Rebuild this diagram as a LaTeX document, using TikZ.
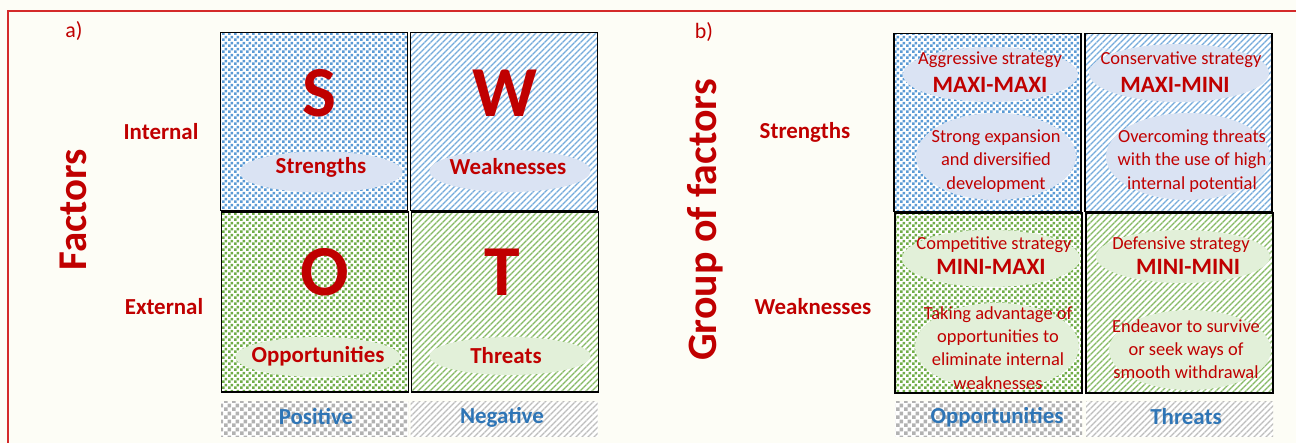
\documentclass[tikz,border=0pt]{standalone}
\usepackage{fontspec}
\setmainfont{Carlito}
\usetikzlibrary{patterns.meta,shapes.geometric}
\definecolor{bg}{HTML}{FDFDF6}
\definecolor{framered}{HTML}{D42A2A}
\definecolor{tred}{HTML}{C00000}
\definecolor{tblue}{HTML}{2E75B6}
\definecolor{pblue}{HTML}{5B9BD5}
\definecolor{pgreen}{HTML}{70AD47}
\definecolor{pgrayc}{HTML}{B2B2B2}
\definecolor{pgrays}{HTML}{BDBDBD}
\definecolor{eblue}{HTML}{DAE3F3}
\definecolor{egreen}{HTML}{E2F0D9}
\tikzdeclarepattern{name=checkA, type=uncolored,
  bounding box={(0bp,0bp) and (6bp,6bp)}, tile size={(6bp,6bp)},
  code={\fill (0bp,0bp) rectangle (3bp,3bp); \fill (3bp,3bp) rectangle (6bp,6bp);}}
\tikzdeclarepattern{name=checkB, type=uncolored,
  bounding box={(0bp,0bp) and (8bp,8bp)}, tile size={(8bp,8bp)},
  code={\fill (0bp,0bp) rectangle (4bp,4bp); \fill (4bp,4bp) rectangle (8bp,8bp);}}
\tikzset{
  cell/.style={draw=black, line width=1.8bp, minimum width=187bp, minimum height=178bp, inner sep=0pt, preaction={fill=white}},
  chkblue/.style={pattern=checkA, pattern color=pblue},
  chkgreen/.style={pattern=checkA, pattern color=pgreen},
  strblue/.style={pattern={Lines[angle=45,distance=4.2426bp,line width=1.3bp]}, pattern color=pblue!85!white},
  strgreen/.style={pattern={Lines[angle=45,distance=4.2426bp,line width=1.3bp]}, pattern color=pgreen!85!white},
  bar/.style={minimum width=187bp, minimum height=35bp, inner sep=0pt, preaction={fill=white}},
  chkgray/.style={pattern=checkB, pattern color=pgrayc},
  strgray/.style={pattern={Lines[angle=45,distance=4.2426bp,line width=1.3bp]}, pattern color=pgrays},
  ell/.style={ellipse, inner sep=0pt, draw=none},
  big/.style={text=tred, font=\fontsize{72}{72}\selectfont\bfseries, inner sep=0pt},
  lbl/.style={text=tred, font=\fontsize{23}{27}\selectfont\bfseries, inner sep=0pt},
  blbl/.style={text=tblue, font=\fontsize{23}{27}\selectfont\bfseries, inner sep=0pt},
  axis/.style={text=tred, font=\fontsize{41}{45}\selectfont\bfseries, inner sep=0pt, rotate=90},
  small/.style={text=tred, font=\fontsize{18.5}{23.3}\selectfont, inner sep=0pt, align=center},
  mid/.style={text=tred, font=\fontsize{23.5}{27}\selectfont\bfseries, inner sep=0pt},
  panel/.style={text=tred, font=\fontsize{22}{26}\selectfont, inner sep=0pt}
}
\begin{document}
\begin{tikzpicture}[x=1bp,y=-1bp]
\useasboundingbox (0,0) rectangle (1296,443);
\fill[bg] (0,0) rectangle (1296,443);
\draw[framered, line width=2.5bp] (8,445) -- (8,11) -- (1298,11);

% ---------- panel a ----------
\node[panel] (pa) at (74,31) {a)};
\node[axis] (fac) at (73,210) {Factors};
\node[lbl] (int) at (161,132) {Internal};
\node[lbl] (ext) at (164,307) {External};

\node[cell, chkblue] (S) at (314,121.5) {};
\node[cell, strblue] (W) at (504,121.5) {};
\node[cell, chkgreen, minimum height=180bp] (O) at (315,302) {};
\node[cell, strgreen, minimum height=180bp] (T) at (505,302) {};

\node[ell, fill=eblue, minimum width=163bp, minimum height=41bp] (eS) at (321,172) {};
\node[ell, fill=eblue, minimum width=161bp, minimum height=42bp] (eW) at (510,171) {};
\node[ell, fill=egreen, minimum width=165bp, minimum height=40bp] (eO) at (318,357) {};
\node[ell, fill=egreen, minimum width=161bp, minimum height=38bp] (eT) at (510,356) {};

\node[big] (lS) at (319,93) {S};
\node[big] (lW) at (505,93) {W};
\node[big] (lO) at (325,272) {O};
\node[big] (lT) at (502,272) {T};

\node[lbl] (tS) at (321,167) {Strengths};
\node[lbl] (tW) at (508,167) {Weaknesses};
\node[lbl] (tO) at (318,356) {Opportunities};
\node[lbl] (tT) at (506,356) {Threats};

\node[bar, chkgray] (bP) at (314.5,419.5) {};
\node[bar, strgray] (bN) at (504,419.5) {};
\node[blbl] (tP) at (316,417) {Positive};
\node[blbl] (tN) at (502,417) {Negative};

% ---------- panel b ----------
\node[panel] (pb) at (704,32) {b)};
\node[axis, font=\fontsize{42}{46}\selectfont\bfseries] (gof) at (705,220) {Group of factors};
\node[lbl] (rs) at (805,132) {Strengths};
\node[lbl] (rw) at (813,307) {Weaknesses};

\node[cell, chkblue] (SO) at (987.5,122.5) {};
\node[cell, strblue] (ST) at (1178.5,122.5) {};
\node[cell, chkgreen, minimum height=180bp] (WO) at (988.5,303) {};
\node[cell, strgreen, minimum height=180bp] (WT) at (1179.5,303) {};

\node[ell, fill=eblue, minimum width=175bp, minimum height=55bp] (e1a) at (990.5,74.5) {};
\node[ell, fill=eblue, minimum width=160bp, minimum height=87bp] (e1b) at (996,156.5) {};
\node[ell, fill=eblue, minimum width=180bp, minimum height=58bp] (e2a) at (1179,73) {};
\node[ell, fill=eblue, minimum width=164bp, minimum height=87bp] (e2b) at (1188,156.5) {};
\node[ell, fill=egreen, minimum width=178bp, minimum height=57bp] (e3a) at (991,258.5) {};
\node[ell, fill=egreen, minimum width=164bp, minimum height=87bp] (e3b) at (997,346.5) {};
\node[ell, fill=egreen, minimum width=174bp, minimum height=53bp] (e4a) at (1183,256.5) {};
\node[ell, fill=egreen, minimum width=162bp, minimum height=80bp] (e4b) at (1190,350) {};

\node[small] (s1a) at (990,60) {Aggressive strategy};
\node[mid] (s1m) at (990,85) {MAXI-MAXI};
\node[small] (s1b) at (996,161) {Strong expansion\\and diversified\\development};
\node[small] (s2a) at (1181,60) {Conservative strategy};
\node[mid] (s2m) at (1175,85) {MAXI-MINI};
\node[small] (s2b) at (1192,161) {Overcoming threats\\with the use of high\\internal potential};
\node[small] (s3a) at (994,245) {Competitive strategy};
\node[mid] (s3m) at (991,267) {MINI-MAXI};
\node[small] (s3b) at (998,348) {Taking advantage of\\opportunities to\\eliminate internal\\weaknesses};
\node[small] (s4a) at (1181,245) {Defensive strategy};
\node[mid] (s4m) at (1188,267) {MINI-MINI};
\node[small] (s4b) at (1186,349) {Endeavor to survive\\or seek ways of\\smooth withdrawal};

\node[bar, chkgray] (bO) at (988.5,419.5) {};
\node[bar, strgray] (bT) at (1179.5,419.5) {};
\node[blbl] (tOp) at (997,417) {Opportunities};
\node[blbl] (tTh) at (1186,417) {Threats};
\end{tikzpicture}
\end{document}
